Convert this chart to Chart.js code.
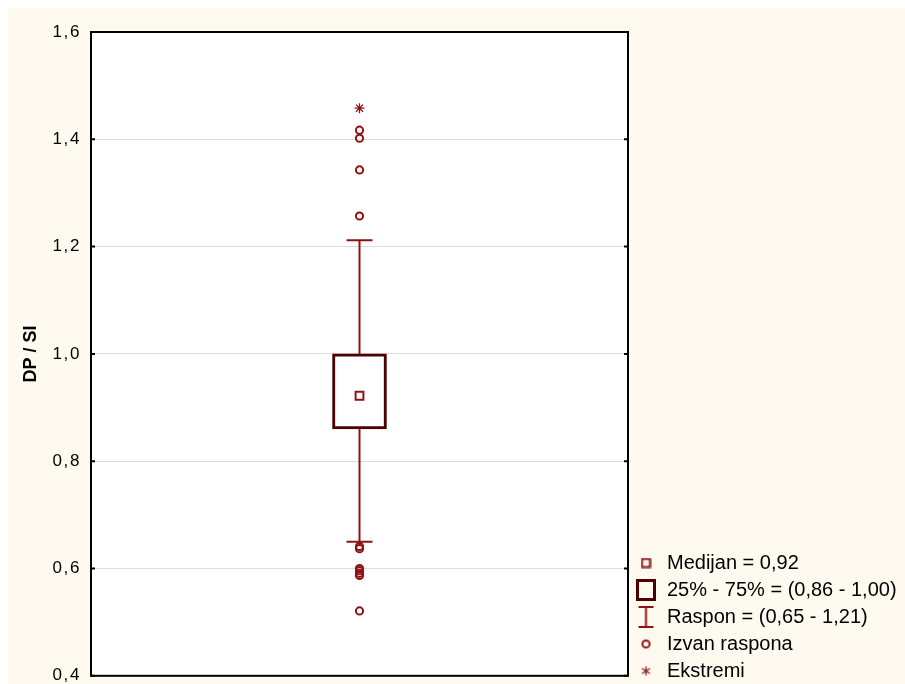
<!DOCTYPE html>
<html>
<head>
<meta charset="utf-8">
<script src="https://cdn.jsdelivr.net/npm/chart.js@4"></script>
<style>
  body { margin: 0; background: #fff; overflow: hidden; }
  canvas { position: absolute; left: 8px; top: 8px; background: #fefaef; }
</style>
</head>
<body>
<canvas id="chart" width="897" height="688"></canvas>
<script>
// data
let yTitle = "DP / SI";
let yTicks = [0.4, 0.6, 0.8, 1.0, 1.2, 1.4, 1.6];
let median = 0.922;
let quartiles = [0.86, 1.0];
let range = [0.65, 1.212];
let outliers = [1.417, 1.402, 1.343, 1.257, 0.641, 0.637, 0.600, 0.596, 0.591, 0.587, 0.521];
let extremes = [1.458];
let legendText = [
    "Medijan = 0,92",
    "25% - 75% = (0,86 - 1,00)",
    "Raspon = (0,65 - 1,21)",
    "Izvan raspona",
    "Ekstremi"
];

let red = "#8e1414";
let dark = "#4e0000";
let font = "'Liberation Sans', Arial, sans-serif";

// small canvases for the legend symbols
function icon(w, h, draw) {
    let c = document.createElement("canvas");
    c.width = w;
    c.height = h;
    let ctx = c.getContext("2d");
    draw(ctx);
    return c;
}
let icons = [
    icon(11, 11, (ctx) => { ctx.strokeStyle = red; ctx.lineWidth = 2; ctx.strokeRect(1.5, 1.5, 8, 8); }),
    icon(20, 22, (ctx) => { ctx.strokeStyle = dark; ctx.lineWidth = 3; ctx.strokeRect(1.5, 1.5, 17, 19); }),
    icon(17, 22, (ctx) => {
        ctx.strokeStyle = red; ctx.lineWidth = 2;
        ctx.beginPath();
        ctx.moveTo(1, 1); ctx.lineTo(16, 1);
        ctx.moveTo(8.5, 1); ctx.lineTo(8.5, 21);
        ctx.moveTo(1, 21); ctx.lineTo(16, 21);
        ctx.stroke();
    }),
    icon(11, 11, (ctx) => { ctx.strokeStyle = red; ctx.lineWidth = 2; ctx.beginPath(); ctx.arc(5.5, 5.5, 3.6, 0, Math.PI * 2); ctx.stroke(); }),
    icon(11, 11, (ctx) => {
        ctx.strokeStyle = red; ctx.lineWidth = 1.3;
        ctx.beginPath();
        ctx.moveTo(5.5, 1); ctx.lineTo(5.5, 10);
        ctx.moveTo(1.5, 3); ctx.lineTo(9.5, 8);
        ctx.moveTo(1.5, 8); ctx.lineTo(9.5, 3);
        ctx.stroke();
    })
];

// white plot area, black frame, small inward ticks
// tick labels are drawn after the datasets (z: 1) with wider letter spacing
let frame = {
    id: "frame",
    beforeUpdate(chart) { chart.ctx.letterSpacing = "0px"; },
    afterLayout(chart) {
        chart.legend.top += 1;
        chart.legend.bottom += 1;
    },
    beforeDraw(chart) {
        chart.ctx.letterSpacing = "0px";
        let a = chart.chartArea;
        chart.ctx.fillStyle = "#fff";
        chart.ctx.fillRect(a.left, a.top, a.right - a.left, a.bottom - a.top);
    },
    beforeDatasetsDraw(chart) {
        chart.ctx.letterSpacing = "1.6px";
    },
    afterDraw(chart) {
        let a = chart.chartArea;
        let ctx = chart.ctx;
        ctx.save();
        ctx.strokeStyle = "#000";
        ctx.lineWidth = 2;
        ctx.strokeRect(a.left, a.top, a.right - a.left, a.bottom - a.top);
        ctx.beginPath();
        for (let v of yTicks) {
            let y = chart.scales.y.getPixelForValue(v);
            ctx.moveTo(a.left, y); ctx.lineTo(a.left + 4, y);
            ctx.moveTo(a.right - 4, y); ctx.lineTo(a.right, y);
        }
        ctx.stroke();
        ctx.restore();
        ctx.letterSpacing = "0px";
    }
};

new Chart(document.getElementById("chart"), {
    type: "scatter",
    data: {
        datasets: [
            {
                label: "Ekstremi",
                data: extremes.map((v) => ({ x: 0, y: v })),
                pointStyle: "star",
                pointRadius: 5,
                borderWidth: 1.3,
                borderColor: red,
                backgroundColor: "transparent"
            },
            {
                label: "Izvan raspona",
                data: outliers.map((v) => ({ x: 0, y: v })),
                pointStyle: "circle",
                pointRadius: 3.6,
                borderWidth: 2,
                borderColor: red,
                backgroundColor: "transparent"
            },
            {
                label: "Medijan",
                data: [{ x: 0, y: median }],
                pointStyle: "rect",
                pointRadius: 5.5,
                borderWidth: 2,
                borderColor: red,
                backgroundColor: "#fff"
            },
            {
                label: "Raspon caps",
                data: range.map((v) => ({ x: 0, y: v })),
                pointStyle: "line",
                pointRadius: 13,
                borderWidth: 2,
                borderColor: red
            },
            {
                label: "Raspon",
                type: "line",
                data: [
                    { x: 0, y: range[1] }, { x: 0, y: quartiles[1] },
                    { x: 0, y: null },
                    { x: 0, y: quartiles[0] }, { x: 0, y: range[0] }
                ],
                borderColor: red,
                borderWidth: 2,
                pointRadius: 0,
                spanGaps: false
            },
            {
                label: "25% - 75%",
                type: "bar",
                data: [{ x: 0, y: quartiles }],
                barThickness: 54,
                borderWidth: 3,
                borderSkipped: false,
                borderColor: dark,
                backgroundColor: "#fff"
            }
        ]
    },
    options: {
        responsive: false,
        animation: false,
        layout: { padding: { left: 8, top: 24, bottom: 9, right: 0 } },
        scales: {
            x: {
                type: "linear",
                min: -1,
                max: 1,
                display: false
            },
            y: {
                min: 0.4,
                max: 1.6,
                afterFit: (scale) => { scale.width = 75; },
                afterBuildTicks: (scale) => { scale.ticks = yTicks.map((v) => ({ value: v })); },
                ticks: {
                    z: 1,
                    padding: 10,
                    color: "#000",
                    font: { family: font, size: 17 },
                    callback: (v) => v.toFixed(1).replace(".", ",")
                },
                grid: { color: "#dcdcdc", drawTicks: false },
                border: { display: false },
                title: {
                    display: true,
                    text: yTitle,
                    color: "#000",
                    font: { family: font, size: 18, weight: "bold" },
                    padding: { top: 4, bottom: 0 }
                }
            }
        },
        plugins: {
            tooltip: { enabled: false },
            legend: {
                position: "right",
                align: "end",
                maxWidth: 277,
                labels: {
                    usePointStyle: true,
                    pointStyleWidth: 22,
                    boxHeight: 17,
                    padding: 7,
                    color: "#000",
                    font: { family: font, size: 20 },
                    generateLabels: () => legendText.map((t, i) => ({
                        text: t,
                        pointStyle: icons[i],
                        fillStyle: "transparent",
                        strokeStyle: "transparent",
                        lineWidth: 0,
                        hidden: false,
                        fontColor: "#000"
                    }))
                }
            }
        }
    },
    plugins: [frame]
});
</script>
</body>
</html>
